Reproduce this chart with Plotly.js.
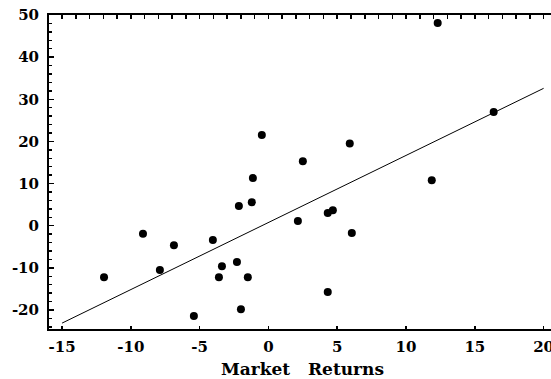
<!DOCTYPE html>
<html>
<head>
<meta charset="utf-8">
<script src="https://cdn.plot.ly/plotly-3.0.1.min.js"></script>
<style>
html,body{margin:0;padding:0;background:#fff;overflow:hidden;}
#chart{width:560px;height:379px;}
</style>
</head>
<body>
<div id="chart"></div>
<script>
// Market returns (x) vs stock returns (y)
const marketReturns = [-11.95, -9.12, -7.89, -6.87, -5.42, -4.04, -3.38, -3.60, -2.29, -1.50,
  -2.00, -2.15, -1.21, -1.13, -0.48, 2.50, 2.14, 4.31, 4.68, 5.91, 6.06, 4.31, 12.30, 16.37, 11.87];
const stockReturns = [-12.2, -1.9, -10.5, -4.6, -21.4, -3.4, -9.6, -12.2, -8.6, -12.2,
  -19.8, 4.7, 5.6, 11.3, 21.5, 15.3, 1.1, 3.0, 3.7, 19.5, -1.7, -15.7, 48.1, 27.0, 10.8];
// fitted regression line endpoints
const fitX = [-15, 20];
const fitY = [-23.1, 32.6];
const xTickVals = [-15, -10, -5, 0, 5, 10, 15, 20];
const xTickText = ["-15", "-10", "-5", "0", "5", "10", "15", "20"];
const yTickVals = [-20, -10, 0, 10, 20, 30, 40, 50];
const yTickText = ["-20", "-10", "0", "10", "20", "30", "40", "50"];
const xTitle = "Market\u00a0\u00a0\u00a0Returns";

const xRange = [-15.95, 20.9];
const yRange = [-24.5, 50.0];
const font = {family: "DejaVu Serif, Liberation Serif, serif", color: "#000", weight: "bold"};

const data = [
  {x: fitX, y: fitY, type: "scatter", mode: "lines",
   line: {color: "#000", width: 1}, hoverinfo: "skip", showlegend: false},
  {x: marketReturns, y: stockReturns, type: "scatter", mode: "markers",
   marker: {color: "#000", size: 8}, showlegend: false},
  {x: marketReturns, y: stockReturns, xaxis: "x2", type: "scatter", mode: "markers",
   marker: {color: "rgba(0,0,0,0)", size: 1}, hoverinfo: "skip", showlegend: false}
];

const layout = {
  width: 560, height: 379,
  margin: {l: 49, r: 4, t: 15, b: 50, pad: 0},
  paper_bgcolor: "#fff", plot_bgcolor: "#fff",
  font: Object.assign({size: 14}, font),
  showlegend: false,
  xaxis: {
    range: xRange, showgrid: false, zeroline: false,
    showline: true, linecolor: "#000", linewidth: 2, mirror: true,
    ticks: "inside", ticklen: 3, tickwidth: 1.5, tickcolor: "#000",
    tickvals: xTickVals, ticktext: xTickText, ticklabelstandoff: 3,
    tickfont: Object.assign({size: 15}, font),
    title: {text: xTitle, font: Object.assign({size: 17}, font), standoff: 10}
  },
  xaxis2: {
    overlaying: "x", side: "top", anchor: "y", range: xRange,
    showgrid: false, zeroline: false, showline: true, linecolor: "#000", linewidth: 2,
    ticks: "inside", ticklen: 4, tickwidth: 1.5, tickcolor: "#000",
    tickmode: "linear", dtick: 1, tick0: 0, showticklabels: false
  },
  yaxis: {
    range: yRange, showgrid: false, zeroline: false,
    showline: true, linecolor: "#000", linewidth: 2, mirror: true,
    ticks: "inside", ticklen: 5, tickwidth: 1.5, tickcolor: "#000",
    tickvals: yTickVals, ticktext: yTickText, ticklabelstandoff: 5,
    tickfont: Object.assign({size: 15}, font),
    minor: {tickmode: "linear", dtick: 2, tick0: 0, ticks: "inside", ticklen: 3,
            tickwidth: 1.5, tickcolor: "#000", showgrid: false}
  }
};

Plotly.newPlot("chart", data, layout, {staticPlot: true, displayModeBar: false});
</script>
</body>
</html>
